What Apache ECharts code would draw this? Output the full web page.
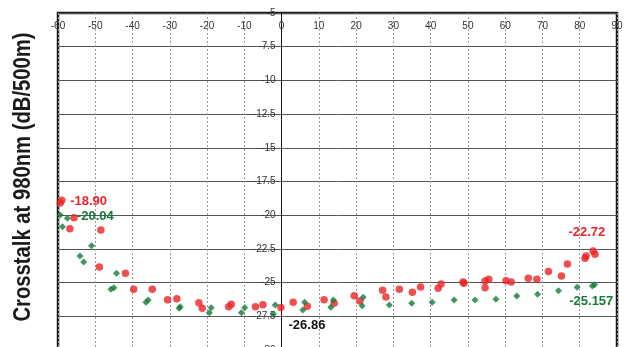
<!DOCTYPE html>
<html>
<head>
<meta charset="utf-8">
<script src="https://cdn.jsdelivr.net/npm/echarts@6/dist/echarts.min.js"></script>
<style>
  html, body { margin: 0; padding: 0; background: #fff; }
  #chart { width: 629px; height: 347px; }
</style>
</head>
<body>
<div id="chart"></div>
<script>
// red circles (upper trace), [angle, dB]
const redPoints = [
  [-59.4, -19.1], [-59.0, -18.9], [-55.7, -20.19], [-56.8, -21.0], [-48.5, -21.1], [-48.9, -23.84],
  [-41.9, -24.3], [-39.7, -25.5], [-34.7, -25.5], [-30.6, -26.27], [-28.1, -26.2],
  [-22.2, -26.5], [-21.3, -26.9], [-14.2, -26.8], [-13.5, -26.6], [-7.0, -26.8],
  [-5.0, -26.64], [-0.2, -26.84], [3.1, -26.46], [6.9, -26.76], [11.4, -26.27],
  [14.1, -26.54], [19.5, -25.97], [21.0, -26.36], [27.1, -25.57], [28.0, -26.07],
  [31.6, -25.5], [35.1, -25.72], [37.3, -25.33], [42.0, -25.42], [42.8, -25.1],
  [48.7, -24.96], [48.9, -25.05], [54.6, -24.88], [55.6, -24.76], [54.6, -25.38],
  [60.2, -24.86], [61.6, -24.96], [66.2, -24.68], [68.5, -24.76], [71.6, -24.17],
  [75.1, -24.51], [76.7, -23.62], [81.4, -23.2], [81.7, -23.03], [83.6, -22.66], [84.1, -22.9]
];
// green diamonds (lower trace)
const greenPoints = [
  [-59.4, -19.99], [-58.8, -20.85], [-57.5, -20.23], [-51.0, -22.26], [-54.1, -23.03],
  [-53.1, -23.47], [-44.3, -24.31], [-45.8, -25.5], [-45.0, -25.38], [-36.4, -26.46],
  [-35.8, -26.29], [-27.5, -26.9], [-27.2, -26.8], [-19.4, -27.23], [-18.9, -26.86],
  [-10.8, -27.23], [-9.9, -26.86], [-2.2, -27.33], [-1.7, -26.66], [5.7, -27.03],
  [6.2, -26.46], [13.2, -26.83], [13.9, -26.29], [21.6, -26.71], [21.9, -26.09],
  [28.9, -26.66], [34.9, -26.54], [40.4, -26.46], [46.3, -26.29], [51.9, -26.29],
  [57.5, -26.24], [63.1, -26.0], [68.7, -25.87], [74.3, -25.6], [79.3, -25.35],
  [83.4, -25.25], [84.0, -25.16]
];
// value callouts: [text, x, y, colour]
const callouts = [
  ['-18.90', -51.8, -19.0, '#ec2327'],
  ['-20.04', -50.0, -20.06, '#127a3a'],
  ['-22.72', 81.9, -21.3, '#ec2327'],
  ['-25.157', 83.1, -26.37, '#127a3a'],
  ['-26.86', 6.8, -28.2, '#111']
];

const xMin = -60, xMax = 90;
const gridLeft = 58, gridWidth = 559;
// shift the y axis (line + labels) in to x = 0
const yShift = gridWidth * (0 - xMin) / (xMax - xMin);

const chart = echarts.init(document.getElementById('chart'));
chart.setOption({
  animation: false,
  grid: {
    left: gridLeft, top: 13, width: gridWidth, height: 337,
    outerBoundsMode: 'none', containLabel: false,
    show: true, borderColor: '#1a1a1a', borderWidth: 2.5, backgroundColor: 'transparent'
  },
  xAxis: {
    type: 'value', position: 'top', min: xMin, max: xMax, interval: 10,
    axisLine: { show: false },
    axisTick: { show: false },
    axisLabel: { inside: true, margin: 8, fontSize: 10, color: '#333', fontFamily: 'Liberation Sans' },
    splitLine: { show: true, lineStyle: { color: '#999', type: [2, 2], width: 1 } }
  },
  yAxis: {
    type: 'value', min: -30, max: -5, interval: 2.5,
    position: 'left', offset: -yShift,
    axisLine: { show: true, onZero: false, lineStyle: { color: '#111', width: 1 } },
    axisTick: { show: false },
    axisLabel: { margin: 6, fontSize: 10, color: '#333', fontFamily: 'Liberation Sans' },
    splitLine: { show: true, lineStyle: { color: '#555', width: 1 } }
  },
  graphic: [{
    type: 'text', x: 24, y: 177, rotation: Math.PI / 2, scaleX: 0.88,
    style: {
      text: 'Crosstalk at 980nm (dB/500m)', fill: '#1a1a1a',
      font: 'bold 23px "Liberation Sans", Arial, sans-serif',
      align: 'center', verticalAlign: 'middle'
    }
  }],
  series: [
    {
      type: 'scatter', data: redPoints, symbol: 'circle', symbolSize: 7.5,
      itemStyle: { color: '#ec2327' }, z: 3,
      markPoint: {
        symbol: 'circle', symbolSize: 0,
        label: { show: true, position: 'inside', formatter: '{b}', fontSize: 13, fontWeight: 'bold', fontFamily: 'Liberation Sans' },
        data: callouts.map(c => ({ name: c[0], coord: [c[1], c[2]], label: { color: c[3] } }))
      }
    },
    {
      type: 'scatter', data: greenPoints, symbol: 'diamond', symbolSize: 7,
      itemStyle: { color: '#127a3a' }, z: 4
    }
  ]
});
</script>
</body>
</html>
